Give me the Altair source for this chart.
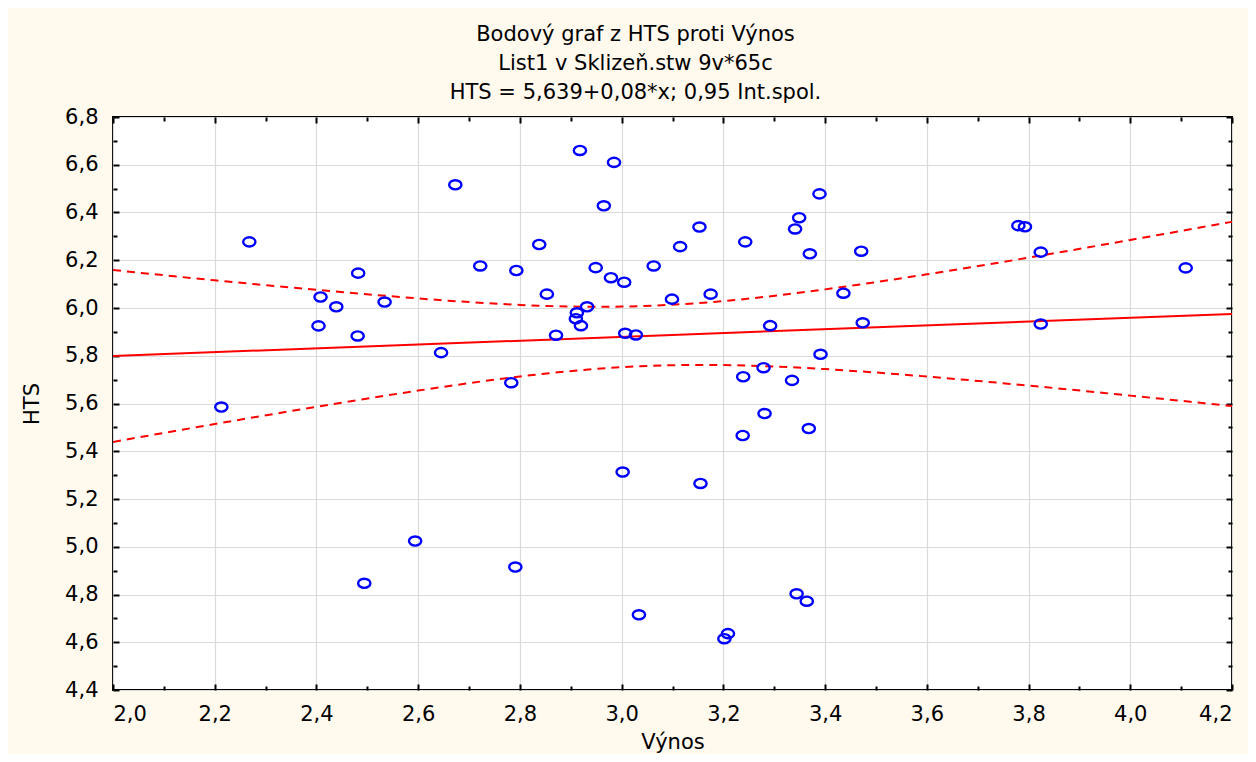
import altair as alt
import pandas as pd

# ---- data ----
vynos = [2.213, 2.268, 2.408, 2.404, 2.439, 2.482, 2.481, 2.534, 2.494, 2.594,
         2.645, 2.673, 2.722, 2.783, 2.791, 2.793, 2.838, 2.853, 2.871, 2.918,
         2.912, 2.910, 2.920, 2.932, 2.949, 2.965, 2.979, 2.985, 3.005, 3.007,
         3.028, 3.002, 3.034, 3.063, 3.099, 3.115, 3.153, 3.155, 3.175, 3.202,
         3.209, 3.239, 3.238, 3.243, 3.279, 3.281, 3.292, 3.335, 3.341, 3.349,
         3.344, 3.364, 3.368, 3.370, 3.389, 3.391, 3.436, 3.471, 3.474, 3.780,
         3.793, 3.824, 3.824, 4.109]
hts = [5.585, 6.277, 6.046, 5.925, 6.005, 6.146, 5.883, 6.025, 4.847, 5.024,
       5.813, 6.516, 6.176, 5.687, 4.915, 6.157, 6.266, 6.058, 5.886, 6.660,
       5.980, 5.955, 5.926, 6.005, 6.169, 6.428, 6.127, 6.610, 6.108, 5.894,
       5.887, 5.313, 4.715, 6.176, 6.037, 6.257, 6.339, 5.265, 6.058, 4.615,
       4.636, 5.712, 5.466, 6.277, 5.750, 5.558, 5.926, 5.697, 6.331, 6.378,
       4.803, 4.772, 5.495, 6.227, 6.478, 5.806, 6.062, 6.238, 5.938, 6.345,
       6.340, 6.234, 5.933, 6.168]

fit_x = [2.0, 4.2]
fit_y = [5.799, 5.975]

band_x = [2.0, 2.2, 2.4, 2.6, 2.8, 3.0, 3.2, 3.4, 3.6, 3.8, 4.0, 4.2]
band_upper = [6.159, 6.116, 6.076, 6.040, 6.013, 6.006, 6.029, 6.078, 6.141, 6.211, 6.285, 6.361]
band_lower = [5.439, 5.514, 5.586, 5.654, 5.713, 5.752, 5.761, 5.744, 5.713, 5.675, 5.633, 5.589]

x_ticks = [2.0, 2.2, 2.4, 2.6, 2.8, 3.0, 3.2, 3.4, 3.6, 3.8, 4.0, 4.2]
y_ticks = [4.4, 4.6, 4.8, 5.0, 5.2, 5.4, 5.6, 5.8, 6.0, 6.2, 6.4, 6.6, 6.8]
x_ticks_all = [2.0, 2.1, 2.2, 2.3, 2.4, 2.5, 2.6, 2.7, 2.8, 2.9, 3.0, 3.1,
               3.2, 3.3, 3.4, 3.5, 3.6, 3.7, 3.8, 3.9, 4.0, 4.1, 4.2]
y_ticks_all = [4.4, 4.5, 4.6, 4.7, 4.8, 4.9, 5.0, 5.1, 5.2, 5.3, 5.4, 5.5, 5.6,
               5.7, 5.8, 5.9, 6.0, 6.1, 6.2, 6.3, 6.4, 6.5, 6.6, 6.7, 6.8]

title_lines = ["Bodový graf z HTS proti Výnos",
               "List1 v Sklizeň.stw 9v*65c",
               "HTS = 5,639+0,08*x; 0,95 Int.spol."]

# ---- layout constants ----
W, H = 1119, 573
FONT = "DejaVu Sans"
FS = 21
LABEL = "replace(format(datum.value, '.1f'), '.', ',')"
MAJOR = "abs(round(datum.value * 10) % 2) < 0.5"
TICKSIZE = {"condition": {"test": MAJOR, "value": 6}, "value": 4}

pts = pd.DataFrame({"x": vynos, "y": hts})
fit = pd.DataFrame({"x": fit_x, "y": fit_y})
up = pd.DataFrame({"x": band_x, "y": band_upper})
lo = pd.DataFrame({"x": band_x, "y": band_lower})

xs = alt.Scale(domain=[2.0, 4.2], nice=False, zero=False)
ys = alt.Scale(domain=[4.4, 6.8], nice=False, zero=False)

# main axes with labels & grid
x_lab = alt.Axis(orient="bottom", values=x_ticks, labelExpr=LABEL, title="Výnos",
                 ticks=False, domain=False, grid=True, gridColor="#DADADA", gridWidth=1.2,
                 labelFont=FONT, labelFontSize=FS, labelColor="black", labelPadding=13,
                 titleFont=FONT, titleFontSize=FS, titleFontWeight="normal", titleColor="black",
                 titleX=W / 2, titleY=58, titleAlign="center", titleBaseline="alphabetic")
y_lab = alt.Axis(orient="left", values=y_ticks, labelExpr=LABEL, title="HTS",
                 ticks=False, domain=False, grid=True, gridColor="#DADADA", gridWidth=1.2,
                 labelFont=FONT, labelFontSize=FS, labelColor="black", labelPadding=15,
                 titleFont=FONT, titleFontSize=FS, titleFontWeight="normal", titleColor="black",
                 titleX=-81, titleY=H / 2, titleAngle=270, titleAlign="center",
                 titleBaseline="middle")

def tick_axis(orient, values, offset):
    return alt.Axis(orient=orient, values=values, offset=offset, labels=False, domain=False,
                    grid=False, ticks=True, tickSize=TICKSIZE, tickColor="black",
                    tickWidth=2, title=None)

# inward ticks: bottom edge (orient top moved down), top edge (orient bottom moved up)
x_tick_bottom = tick_axis("top", x_ticks_all, -H)
x_tick_top = tick_axis("bottom", x_ticks_all, -H)
# inward ticks: left edge (orient right moved left), right edge (orient left moved right)
y_tick_left = tick_axis("right", y_ticks_all, -W)
y_tick_right = tick_axis("left", y_ticks_all, -W)

ellipse = "M -1 0 A 1 0.75 0 1 1 1 0 A 1 0.75 0 1 1 -1 0 Z"

points = alt.Chart(pts).mark_point(
    shape=ellipse, size=150, filled=False, color="#0000FF", strokeWidth=2.4, opacity=1
).encode(
    x=alt.X("x:Q", scale=xs, axis=x_lab),
    y=alt.Y("y:Q", scale=ys, axis=y_lab),
)

fit_line = alt.Chart(fit).mark_line(color="#FF0000", strokeWidth=2, clip=True).encode(
    x=alt.X("x:Q", scale=xs, axis=x_tick_bottom),
    y=alt.Y("y:Q", scale=ys, axis=y_tick_left),
)

upper = alt.Chart(up).mark_line(color="#FF0000", strokeWidth=2, strokeDash=[8, 6],
                                interpolate="natural", clip=True).encode(
    x=alt.X("x:Q", scale=xs, axis=x_tick_top),
    y=alt.Y("y:Q", scale=ys, axis=y_tick_right),
)

lower = alt.Chart(lo).mark_line(color="#FF0000", strokeWidth=2, strokeDash=[8, 6],
                                interpolate="natural", clip=True).encode(
    x=alt.X("x:Q", scale=xs, axis=None),
    y=alt.Y("y:Q", scale=ys, axis=None),
)

chart = alt.layer(fit_line, upper, lower, points).resolve_axis(
    x="independent", y="independent"
).resolve_scale(x="shared", y="shared").properties(
    width=W, height=H,
    autosize=alt.AutoSizeParams(type="none"),
    padding={"left": 105, "top": 109, "right": 16, "bottom": 64},
    background="#FFF9EE",
    title=alt.TitleParams(text=title_lines, font=FONT, fontSize=FS, fontWeight="normal",
                          color="black", anchor="middle", frame="group", lineHeight=29,
                          baseline="bottom", offset=15, dx=-37, dy=33),
).configure_view(fill="white", stroke="black", strokeWidth=2)

chart.save("out.html", embed_options={"renderer": "svg", "actions": False})
